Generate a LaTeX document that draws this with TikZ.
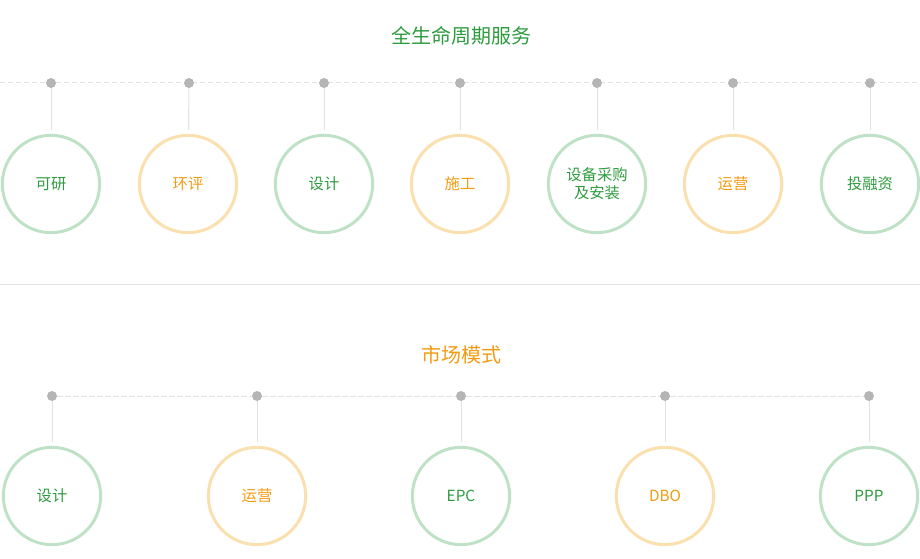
\documentclass[tikz,border=0pt]{standalone}
\usepackage{fontspec}
\setmainfont{Noto Sans CJK SC}
\usepackage{xcolor}
\usetikzlibrary{positioning}
\definecolor{lifegreen}{HTML}{2E9B3F}
\definecolor{lifeorange}{HTML}{F39A12}
\definecolor{ringgreen}{HTML}{BFE2C6}
\definecolor{ringorange}{HTML}{FAE0AE}
\definecolor{dotgray}{HTML}{B5B5B5}
\definecolor{rulegray}{HTML}{E2E2E2}
\tikzset{ring/.style={circle,draw=ringgreen,line width=2.25pt,minimum size=73pt,inner sep=0pt,align=center,
    text=lifegreen,font=\fontsize{11.5}{13.5}\selectfont},
  ringo/.style={ring,draw=ringorange,text=lifeorange},
  pin/.style={circle,fill=dotgray,minimum size=7.5pt,inner sep=0pt},
  stem/.style={draw=rulegray,line width=0.75pt,shorten >=3pt},
  rail/.style={draw=rulegray,line width=0.75pt,dash pattern=on 4pt off 2pt},
  heading/.style={font=\fontsize{15}{18}\selectfont}}

\begin{document}
\begin{tikzpicture}[x=0.75pt,y=-0.75pt]
\useasboundingbox (0,0) rectangle (920,559);
% full life cycle
\node[heading,text=lifegreen] (t1) at (461,36){全生命周期服务};
\coordinate (railL) at (0,83); \coordinate (railR) at (920,83);
\draw[rail] (railL)--(railR);
\node[pin] (p1) at (51,83){}; \node[pin] (p2) at (189,83){}; \node[pin] (p3) at (324,83){};
\node[pin] (p4) at (460,83){}; \node[pin] (p5) at (597,83){}; \node[pin] (p6) at (733,83){};
\node[pin] (p7) at (870,83){};
\node[ring] (s1) at (51,184){可研};
\node[ringo] (s2) at (188,184){环评};
\node[ring] (s3) at (324,184){设计};
\node[ringo] (s4) at (460,184){施工};
\node[ring] (s5) at (597,184){设备采购\\及安装};
\node[ringo] (s6) at (733,184){运营};
\node[ring] (s7) at (870,184){投融资};
\draw[stem] (p1)--(s1); \draw[stem] (p2)--(s2); \draw[stem] (p3)--(s3); \draw[stem] (p4)--(s4);
\draw[stem] (p5)--(s5); \draw[stem] (p6)--(s6); \draw[stem] (p7)--(s7);
% separator
\coordinate (sepL) at (0,285); \coordinate (sepR) at (920,285);
\draw[rulegray,line width=0.75pt] (sepL)--(sepR);
% market modes
\node[heading,text=lifeorange] (t2) at (461,355){市场模式};
\node[pin] (q1) at (52,396){}; \node[pin] (q2) at (257,396){}; \node[pin] (q3) at (461,396){};
\node[pin] (q4) at (665,396){}; \node[pin] (q5) at (869,396){};
\draw[rail] (q1)--(q2); \draw[rail] (q2)--(q3); \draw[rail] (q3)--(q4); \draw[rail] (q4)--(q5);
\node[ring] (m1) at (52,496){设计};
\node[ringo] (m2) at (257,496){运营};
\node[ring] (m3) at (461,496){EPC};
\node[ringo] (m4) at (665,496){DBO};
\node[ring] (m5) at (869,496){PPP};
\draw[stem] (q1)--(m1); \draw[stem] (q2)--(m2); \draw[stem] (q3)--(m3); \draw[stem] (q4)--(m4);
\draw[stem] (q5)--(m5);
\end{tikzpicture}
\end{document}
